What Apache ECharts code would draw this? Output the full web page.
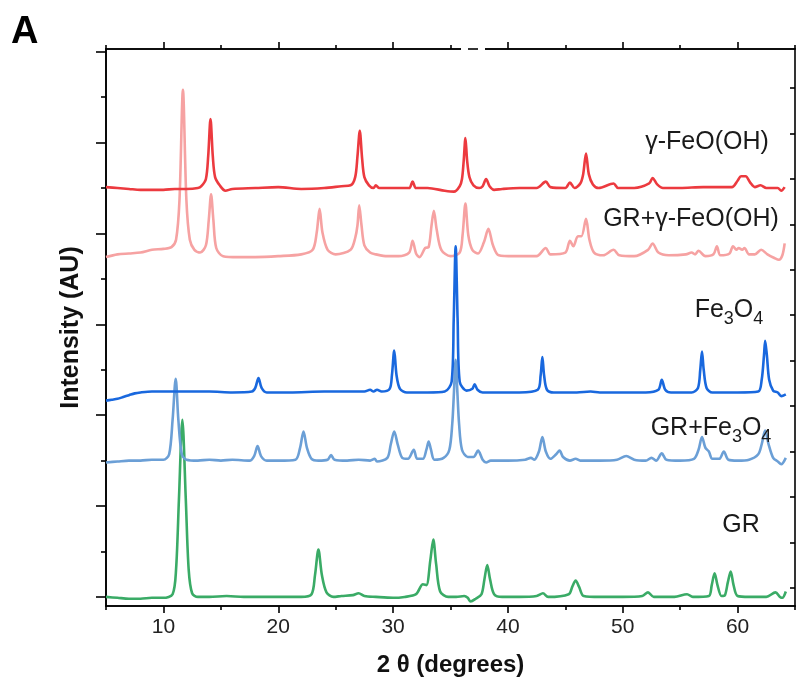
<!DOCTYPE html>
<html>
<head>
<meta charset="utf-8">
<script src="https://cdn.jsdelivr.net/npm/echarts@6/dist/echarts.min.js"></script>
<style>
html,body{margin:0;padding:0;background:#fff;}
#chart{width:799px;height:687px;}
</style>
</head>
<body>
<div id="chart"></div>
<script>
// ---- Data (2θ in degrees, intensity in arbitrary units above each pattern's baseline) ----
const twoThetaMajorTicks = [10, 20, 30, 40, 50, 60];
const twoThetaMinorTicks = [5, 15, 25, 35, 45, 55, 65];
const intensityMajorTicks = [0, 100, 200, 300, 400, 500, 600];
const intensityMinorTicks = [50, 150, 250, 350, 450, 550];
const intensityRightTicks = [10, 60, 110, 160, 210, 260, 310, 360, 410, 460, 510, 560];

const sampleNames = ['GR', 'GR+Fe3O4', 'Fe3O4', 'GR+γ-FeO(OH)', 'γ-FeO(OH)'];
const stackOffsets = [0, 150, 225, 375, 450];

const patternGR = [
  [5.0,0],[6,-1],[7,-2],[8,-2],[9,-1],[10,-1],[10.8,3],[11.1,30],[11.35,107],[11.65,195],[11.95,107],[12.2,30],[12.5,4],[13,0],[14,0],[15.5,1],[17,0],[18,0],[20,0],[22,0],
  [22.9,3],[23.2,24],[23.5,52],[23.8,24],[24.2,5],[24.8,0],[25.5,1],[26.5,2],[27,4],[27.5,1],[28.5,0],[30,-1],[31,0],[32,3],[32.6,14],[32.9,13],[33.25,41],[33.5,63],[33.75,36],[34.1,6],
  [34.8,0],[35.5,0],[36.2,1],[36.5,-1],[36.75,-5],[37.2,-2],[37.7,3],[37.95,19],[38.2,35],[38.45,19],[38.8,3],[39.5,0],[41,0],[42.5,1],[43.05,4],[43.5,0],[45.3,3],[45.6,11],[45.9,18],[46.2,11],
  [46.6,1],[48,0],[50,0],[51.7,1],[52.2,5],[52.7,0],[54.5,0],[55.6,3],[56.1,0],[57.5,1],[57.75,13],[58.0,26],[58.25,13],[58.6,1],[58.9,2],[59.15,16],[59.4,28],[59.65,13],[60.0,1],[61,0],
  [62.5,0],[63.3,5],[63.7,0],[63.9,-1],[64.2,6]
];

const patternGRFe3O4 = [
  [5.0,-2],[6,-1],[7,0],[8,0],[9,1],[10.0,1],[10.5,7],[10.8,45],[11.07,90],[11.3,45],[11.6,7],[12.0,1],[13,0],[14,1],[15,0],[16,1],[17.5,0],[17.9,5],[18.2,16],[18.5,5],
  [19,0],[20,0],[21.5,1],[21.9,14],[22.2,32],[22.5,14],[22.9,2],[23.5,0],[24.3,1],[24.6,6],[24.9,1],[26,0],[27,1],[28,0],[28.4,2],[28.6,-1],[29.5,3],[29.8,18],[30.1,32],[30.4,18],
  [30.8,3],[31.3,2],[31.8,12],[32.1,2],[32.6,2],[32.9,12],[33.1,21],[33.3,12],[33.6,1],[34.4,3],[34.9,12],[35.15,40],[35.3,75],[35.45,111],[35.6,75],[35.75,40],[36.0,12],[36.5,4],[37.0,4],[37.4,11],
  [37.8,1],[38.1,-2],[38.5,0],[40,0],[41.5,1],[42.0,3],[42.3,1],[42.7,10],[43.0,26],[43.3,10],[43.7,2],[44.2,7],[44.5,11],[44.8,4],[45.4,0],[45.9,2],[46.3,0],[48,0],[49.5,1],[50.3,5],
  [51.0,1],[52.0,0],[52.5,3],[52.9,0],[53.4,8],[53.8,1],[55,0],[56.2,2],[56.6,12],[56.9,26],[57.2,14],[57.5,10],[57.8,2],[58.4,2],[58.8,10],[59.2,1],[60,0],[61.0,1],[61.8,7],[62.1,18],
  [62.4,33],[62.7,18],[63.1,3],[63.5,-1],[63.8,-4],[64.2,3]
];

const patternFe3O4 = [
  [5.0,-9],[5.5,-8],[6,-7],[6.5,-5],[7,-3],[7.5,-1],[8,0],[9,1],[10,1],[12,1],[14,1],[16,0],[17.7,1],[18.0,5],[18.28,16],[18.55,5],[19,0],[21,0],[24,1],[27.5,1],
  [28,3],[28.3,1],[28.6,3],[29.0,1],[29.7,4],[29.9,19],[30.1,46],[30.3,19],[30.6,4],[31.2,0],[33,0],[34.5,1],[35.1,12],[35.28,80],[35.45,161],[35.62,80],[35.8,12],[36.4,2],[36.9,4],[37.1,9],
  [37.35,3],[37.8,0],[39,0],[41,0],[42.6,3],[42.85,19],[43.0,39],[43.15,19],[43.4,3],[44,0],[46,0],[47.2,1],[48,0],[50,0],[52,0],[53.1,3],[53.4,14],[53.7,3],[54.2,0],[56,0],
  [56.55,5],[56.75,25],[56.9,45],[57.05,25],[57.3,5],[57.8,0],[60,0],[61.8,1],[62.1,14],[62.3,41],[62.4,57],[62.55,41],[62.75,14],[63.1,2],[63.5,0],[63.8,-4],[64.2,-2]
];

const patternGRFeOOH = [
  [5.0,-1],[6,2],[7,3],[8,4],[9,7],[10,8],[10.7,10],[11.1,18],[11.4,62],[11.7,183],[12.0,62],[12.3,18],[12.7,7],[13.2,4],[13.7,12],[13.95,40],[14.15,68],[14.35,40],[14.6,9],[15.2,0],
  [16.5,-1],[18,-1],[20,0],[22,2],[23.0,7],[23.35,26],[23.6,52],[23.85,26],[24.3,7],[25,2],[26.3,7],[26.7,20],[26.9,34],[27.05,56],[27.25,34],[27.5,12],[28.0,4],[28.5,2],[29.5,0],[30.5,0],
  [31.4,4],[31.7,17],[32.0,3],[32.3,-1],[32.8,9],[33.1,10],[33.35,34],[33.55,50],[33.8,29],[34.2,7],[35.0,0],[35.8,4],[36.05,23],[36.3,58],[36.55,23],[36.9,7],[37.4,3],[37.9,15],[38.3,30],[38.7,12],
  [39.2,1],[40.5,0],[42.5,0],[43.3,9],[43.7,2],[45.0,4],[45.4,17],[45.7,11],[46.1,22],[46.4,22],[46.8,41],[47.1,18],[47.5,4],[48.3,1],[49.2,7],[49.7,1],[51,0],[52.2,7],[52.6,14],[53.1,4],
  [54,1],[55.5,2],[56.0,4],[56.3,2],[56.6,6],[57.2,0],[57.9,2],[58.2,11],[58.5,1],[59.3,3],[59.6,11],[59.9,7],[60.1,9],[60.4,7],[60.6,9],[61.0,2],[61.5,2],[62.05,7],[62.6,2],[63.2,-2],
  [63.6,-4],[63.9,1],[64.1,14]
];

const patternFeOOH = [
  [5.0,1],[6,0],[7,-1],[8,-2],[9,-2],[10,-2],[11,-1],[12,-1],[13,0],[13.3,2],[13.7,10],[13.9,35],[14.1,76],[14.3,35],[14.5,12],[14.9,3],[15.4,-3],[16,-1],[18,0],[20,1],
  [22,-1],[24,0],[25.5,2],[26.3,3],[26.7,12],[26.9,35],[27.1,63],[27.3,33],[27.5,12],[27.9,3],[28.3,0],[28.5,3],[28.8,0],[29.5,0],[30.5,0],[31.4,0],[31.7,7],[32.0,0],[33,0],[34.5,-3],
  [35.3,-4],[35.8,2],[36.0,10],[36.15,30],[36.3,55],[36.45,30],[36.65,12],[37.0,3],[37.5,0],[37.8,2],[38.1,10],[38.4,2],[38.8,-2],[39.5,-1],[41,0],[42.5,0],[43.3,7],[43.7,1],[45,0],[45.4,6],
  [45.8,0],[46.3,5],[46.55,15],[46.8,38],[47.05,15],[47.4,4],[47.9,0],[49.2,5],[49.6,0],[51,0],[52.3,5],[52.6,11],[53.0,4],[53.5,0],[55,0],[57,1],[59.5,1],[60.0,8],[60.3,13],[60.7,13],
  [61.1,6],[61.5,1],[62.0,3],[62.5,0],[63.5,0],[63.8,-3],[64.1,1]
];

const patterns = [patternGR, patternGRFe3O4, patternFe3O4, patternGRFeOOH, patternFeOOH];
const seriesColors = ['#3aab66', '#6b9fd6', '#1968de', '#f6a2a2', '#ec3a3f'];

// ---- Chart ----
const FONT = '"Liberation Sans", Arial, Helvetica, sans-serif';
const chart = echarts.init(document.getElementById('chart'), null, {renderer: 'canvas'});

const axisLineStyle = {color: '#000', width: 1.6};
function xAxisDef(position, ticks, len, withLabel) {
  return {
    type: 'value', position: position, min: 5, max: 65,
    axisLine: {show: true, onZero: false, lineStyle: axisLineStyle},
    axisTick: {show: true, customValues: ticks, length: len, inside: false, lineStyle: axisLineStyle},
    axisLabel: withLabel ? {show: true, customValues: ticks, fontSize: 21, color: '#222', margin: 11, fontFamily: FONT} : {show: false},
    splitLine: {show: false}
  };
}
function yAxisDef(position, ticks, len, inside) {
  return {
    type: 'value', position: position, min: -10, max: 603,
    axisLine: {show: true, onZero: false, lineStyle: axisLineStyle},
    axisTick: {show: true, customValues: ticks, length: len, inside: inside, lineStyle: axisLineStyle},
    axisLabel: {show: false},
    splitLine: {show: false}
  };
}

const xMain = xAxisDef('bottom', twoThetaMajorTicks, 7, true);
xMain.name = '2 θ (degrees)';
xMain.nameLocation = 'middle';
xMain.nameGap = 47;
xMain.nameTextStyle = {fontSize: 24, fontWeight: 'bold', color: '#111', fontFamily: FONT};

const yMain = yAxisDef('left', intensityMajorTicks, 10, false);
yMain.name = 'Intensity (AU)';
yMain.nameLocation = 'middle';
yMain.nameGap = 22;
yMain.nameTextStyle = {fontSize: 25, fontWeight: 'bold', color: '#111', fontFamily: FONT};

const series = patterns.map((pts, i) => ({
  name: sampleNames[i],
  type: 'line',
  xAxisIndex: 0,
  yAxisIndex: 0,
  showSymbol: false,
  symbol: 'none',
  smooth: 0.3,
  z: 2 + (i === 2 ? 5 : i),
  lineStyle: {color: seriesColors[i], width: 2.6, join: 'round'},
  itemStyle: {color: seriesColors[i]},
  data: pts.map(p => [p[0], p[1] + stackOffsets[i]])
}));

const labelFont = '25px ' + FONT;
function seriesLabel(text, x, y, rich) {
  const st = {text: text, font: labelFont, fill: '#1a1a1a', align: 'center', verticalAlign: 'middle', textAlign: 'center', textVerticalAlign: 'middle'};
  if (rich) {
    st.lineHeight = 36;
    st.rich = {s: {fontSize: 18, fontFamily: FONT, lineHeight: 18, verticalAlign: 'bottom', fill: '#1a1a1a'}};
  }
  return {type: 'text', x: x, y: y, z: 100, style: st};
}

const option = {
  animation: false,
  backgroundColor: '#fff',
  grid: {left: 106, right: 4, top: 49, bottom: 81, containLabel: false},
  xAxis: [
    xMain,
    xAxisDef('bottom', twoThetaMinorTicks, 4, false),
    xAxisDef('top', twoThetaMajorTicks, 7, false),
    xAxisDef('top', twoThetaMinorTicks, 4, false)
  ],
  yAxis: [
    yMain,
    yAxisDef('left', intensityMinorTicks, 5, false),
    yAxisDef('right', intensityRightTicks, 5, true)
  ],
  series: series,
  graphic: [
    {type: 'text', x: 11, y: 14, z: 100, style: {text: 'A', font: 'bold 38px ' + FONT, fill: '#000'}},
    seriesLabel('γ-FeO(OH)', 707, 142),
    seriesLabel('GR+γ-FeO(OH)', 691, 219),
    seriesLabel('Fe{s|3}O{s|4}', 729, 310, true),
    seriesLabel('GR+Fe{s|3}O{s|4}', 711, 428, true),
    seriesLabel('GR', 741, 525),
    // small break in the top frame line
    {type: 'rect', z: 100, shape: {x: 461, y: 46, width: 24, height: 6}, style: {fill: '#fff'}},
    {type: 'line', z: 101, shape: {x1: 468, y1: 49, x2: 478, y2: 49}, style: {stroke: '#000', lineWidth: 1.6}}
  ]
};
chart.setOption(option);
</script>
</body>
</html>
